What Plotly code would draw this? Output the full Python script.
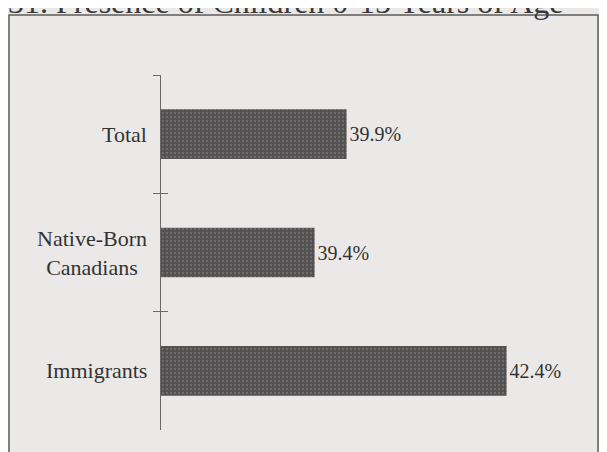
import plotly.graph_objects as go

# 数据
categories = ['Total', 'Native-Born<br>Canadians', 'Immigrants']
values = [39.9, 39.4, 42.4]
value_labels = ['39.9%', '39.4%', '42.4%']
title_text = '31. Presence of Children 0-15 Years of Age'

# 配色
C_BG = '#ebe9e7'
C_BAR = '#525050'
C_TEXT = '#333333'
C_AXIS = '#6a6868'
FONT = 'Liberation Serif'

fig = go.Figure()

fig.add_trace(go.Bar(
    y=categories, x=values, orientation='h',
    width=0.42,
    marker=dict(
        color=C_BAR, line=dict(width=0),
        pattern=dict(shape='.', fgcolor='#8c8a8a', bgcolor=C_BAR, size=4, solidity=0.25),
    ),
    text=value_labels, textposition='outside',
    textfont=dict(family=FONT, size=20, color=C_TEXT),
    cliponaxis=False, showlegend=False,
))

# 第二个 y 轴只用来画向内的刻度，形成十字刻度
fig.add_trace(go.Scatter(
    y=categories, x=[40, 40, 40], yaxis='y2', mode='markers',
    marker=dict(opacity=0), showlegend=False, hoverinfo='skip',
))

# 类别标签（居中对齐的多行文本）
for cat in categories:
    fig.add_annotation(
        x=0, xref='paper', y=cat, yref='y',
        text=cat, showarrow=False, xanchor='right', align='center',
        xshift=-12, font=dict(family=FONT, size=22, color=C_TEXT),
    )

# 标题（顶部被裁切）
fig.add_annotation(
    x=0.300, xref='paper', y=1.1482, yref='paper',
    text=title_text, showarrow=False, xanchor='center', yanchor='bottom',
    font=dict(family=FONT, size=32, color='#3a3838'),
)

# 外框
fig.add_shape(
    type='rect', xref='paper', yref='paper',
    x0=-0.3654, x1=1.0505, y0=-0.2, y1=1.1688,
    line=dict(color='#5e5c5c', width=1.5), fillcolor='rgba(0,0,0,0)', layer='below',
)

fig.update_layout(
    width=607, height=452,
    paper_bgcolor=C_BG, plot_bgcolor=C_BG,
    margin=dict(l=153, r=38, t=67, b=29.5),
    xaxis=dict(range=[37, 43.5], visible=False, showgrid=False, zeroline=False),
    yaxis=dict(
        categoryorder='array', categoryarray=categories, autorange='reversed',
        showticklabels=False, showline=True, linecolor=C_AXIS, linewidth=1,
        ticks='outside', tickson='boundaries', ticklen=7, tickcolor=C_AXIS,
        showgrid=False, zeroline=False,
    ),
    yaxis2=dict(
        overlaying='y', side='left', matches='y',
        categoryorder='array', categoryarray=categories,
        showticklabels=False, showline=False,
        ticks='inside', tickson='boundaries', ticklen=7, tickcolor=C_AXIS,
        showgrid=False, zeroline=False,
    ),
)

fig.write_html('out.html')
